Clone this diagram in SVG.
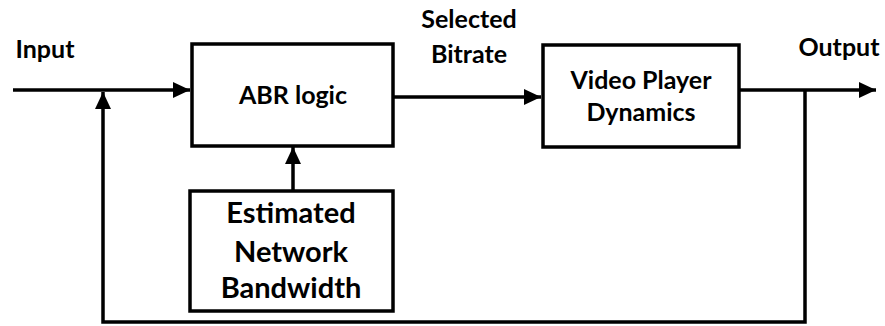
<svg xmlns="http://www.w3.org/2000/svg" width="885" height="326" viewBox="0 0 885 326">
<style>
.box{fill:#fff;stroke:#000;stroke-width:3.5}
.ln{fill:none;stroke:#000;stroke-width:3.5}
text{font-family:Lato,"Liberation Sans",sans-serif;font-weight:bold;fill:#000;text-anchor:middle}
.t{font-size:25px}
.tb{font-size:29px}
</style>
<defs>
<marker id="ah" markerUnits="userSpaceOnUse" markerWidth="18" markerHeight="18" viewBox="0 0 18 18" refX="17" refY="9" orient="auto">
<path d="M0,1 L17,9 L0,17 Z" fill="#000"/>
</marker>
</defs>
<g id="connectors">
<line class="ln" x1="13" y1="90" x2="190" y2="90" marker-end="url(#ah)"/>
<line class="ln" x1="393" y1="97" x2="541" y2="97" marker-end="url(#ah)"/>
<line class="ln" x1="739" y1="90" x2="876" y2="90" marker-end="url(#ah)"/>
<line class="ln" x1="293" y1="191" x2="293" y2="147" marker-end="url(#ah)"/>
<polyline class="ln" points="805,90 805,322 103,322 103,92" marker-end="url(#ah)"/>
</g>
<g id="abr">
<rect class="box" x="192" y="44" width="201" height="102"/>
<text class="t" x="293" y="104">ABR logic</text>
</g>
<g id="video">
<rect class="box" x="543" y="45" width="196" height="102"/>
<text class="t" x="641" y="89">Video Player</text>
<text class="t" x="641" y="121">Dynamics</text>
</g>
<g id="bandwidth">
<rect class="box" x="190" y="191" width="203" height="120"/>
<text class="tb" x="291" y="223">Estimated</text>
<text class="tb" x="291" y="262">Network</text>
<text class="tb" x="291" y="298">Bandwidth</text>
</g>
<g id="labels">
<text class="t" x="45" y="58">Input</text>
<text class="t" x="469" y="28">Selected</text>
<text class="t" x="469" y="63">Bitrate</text>
<text class="t" x="839" y="56">Output</text>
</g>
</svg>
